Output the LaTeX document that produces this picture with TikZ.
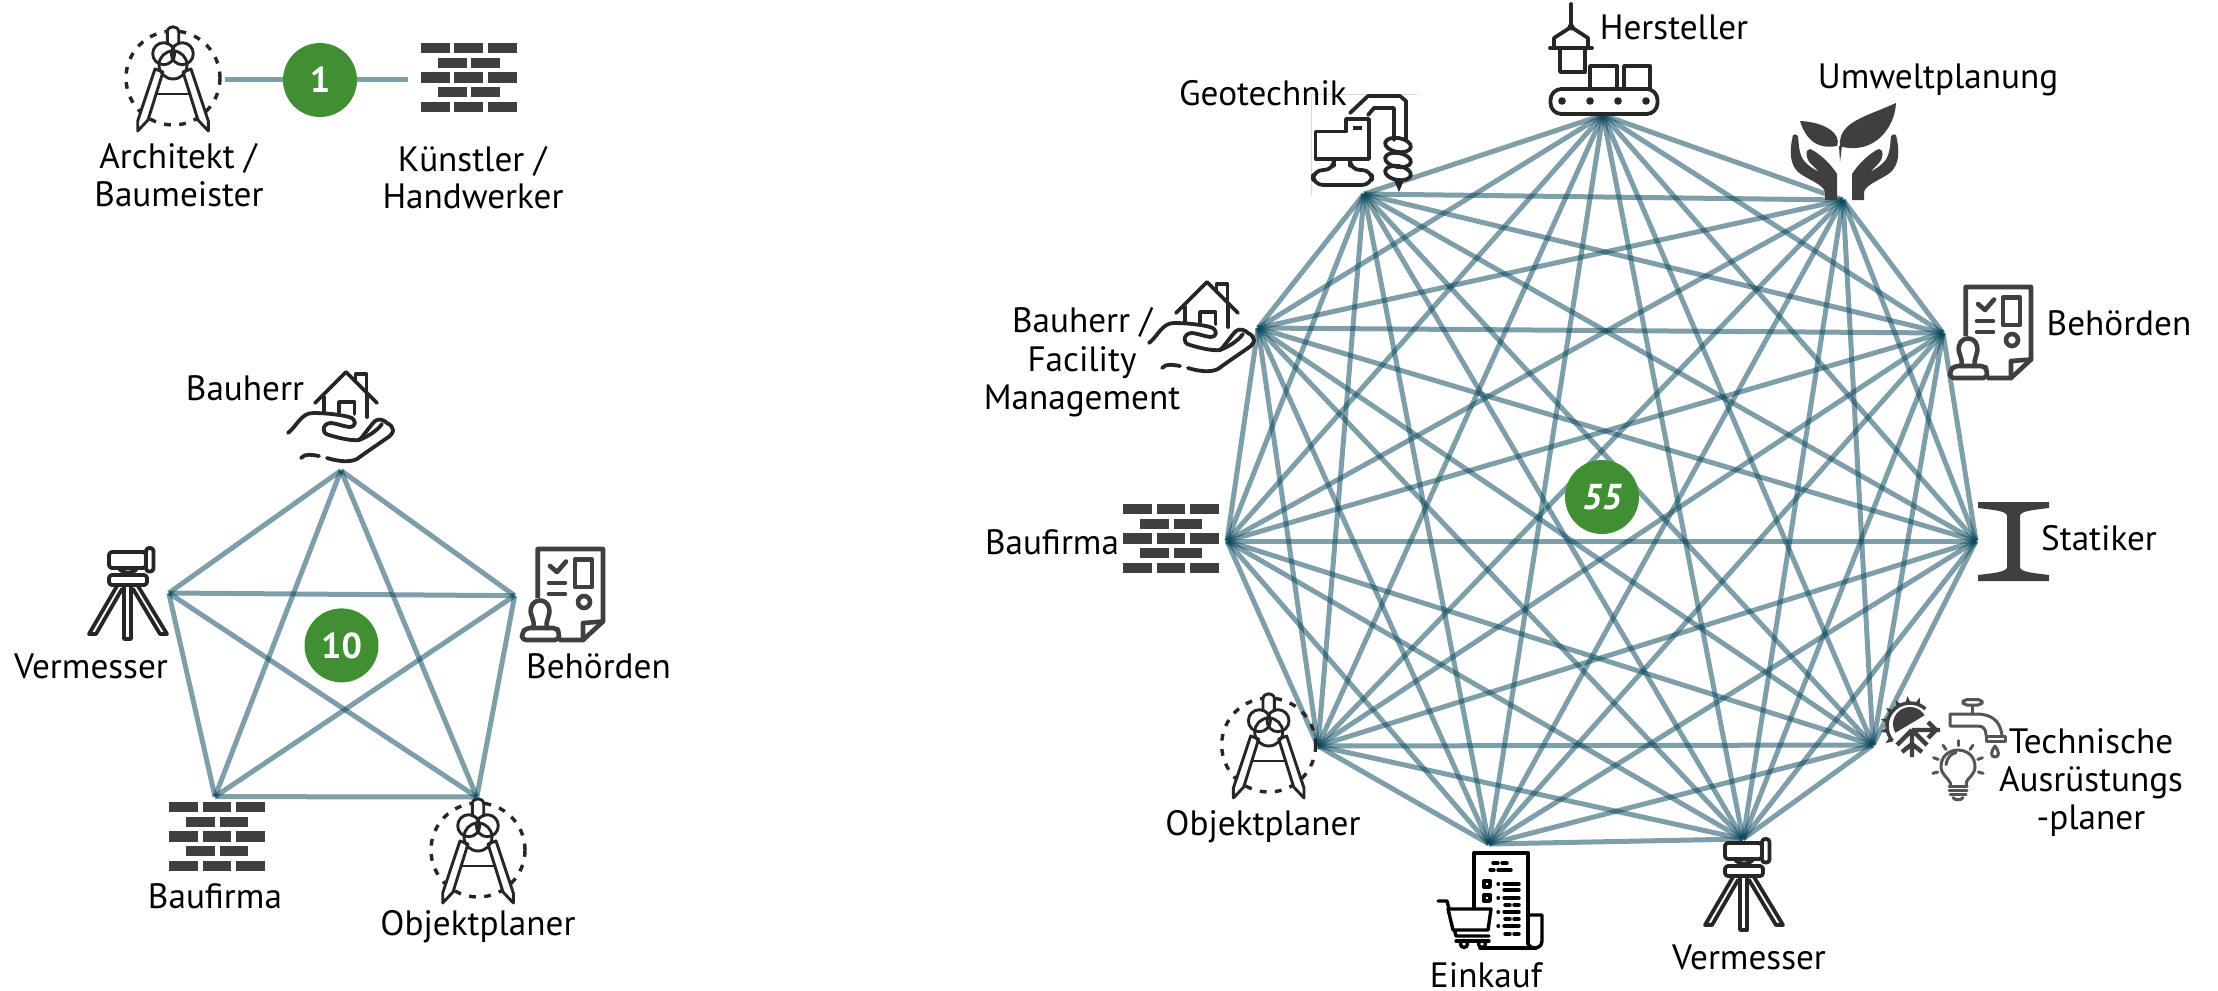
\documentclass[tikz,border=0pt]{standalone}
\usepackage{fontspec}
\setmainfont{PT Sans}
\usetikzlibrary{calc}
\definecolor{linkc}{HTML}{0B4A5E}
\definecolor{icond}{HTML}{3F3F3F}
\definecolor{iconk}{HTML}{262626}
\definecolor{icong}{HTML}{555555}
\definecolor{greenb}{HTML}{409033}
\tikzset{
 linkline/.style={draw=linkc,line width=2.5pt,opacity=.53},
 lbl/.style={anchor=base,yshift=-.5pt,font=\fontsize{17.6}{17.6}\selectfont,inner sep=0pt,text=black},
 count/.style={circle,fill=greenb,text=white,inner sep=0pt,minimum size=37pt,font=\bfseries\fontsize{18}{18}\selectfont},
 ico/.style={line width=1.9pt,draw=iconk,line join=round,line cap=round},
 bricks/.pic={
  \foreach \yy in {0,29.3,58.7}{\foreach \xx in {0,33.6,67.2}{\fill[icond] (\xx,\yy) rectangle ++(28.8,10.3);}}
  \foreach \yy in {14.7,44}{\foreach \xx in {17,50.5}{\fill[icond] (\xx,\yy) rectangle ++(28.8,10.3);}}
 },
 compass/.pic={
  \draw[iconk,line width=1.7pt,dash pattern=on 3.4pt off 4.2pt] (0,0) circle[radius=47];
  \begin{scope}[ico,line width=1.45pt]
  \draw[fill=white] (-5.7,-34) -- (-5.7,-46) .. controls (-5.7,-53) and (5.7,-53) .. (5.7,-46) -- (5.7,-34);
  \draw[fill=white] (-18,-9) -- (-35.3,43) -- (-35.3,53) -- (-25,42) -- (-10,-6) -- cycle;
  \draw[fill=white] (18,-9) -- (35.3,43) -- (35.3,53) -- (25,42) -- (10,-6) -- cycle;
  \draw (-9.3,-24.3) circle[radius=11];
  \draw (9.3,-24.3) circle[radius=11];
  \draw (0,-13) circle[radius=14];
  \draw (-17,16) -- (17,16);
  \end{scope}
 },
 surveyor/.pic={
  \begin{scope}[ico]
  \draw[rounded corners=1.5pt] (21,5) rectangle (58,21);
  \draw[rounded corners=1.5pt] (58,1) rectangle (65.5,24.5);
  \draw (31,21) .. controls (33,27) and (47,27) .. (49,21);
  \draw[rounded corners=1.5pt] (21,28) rectangle (59,38);
  \draw (29,39) -- (1,87) -- (8,87) -- (34,42);
  \draw (36,39) -- (36,92) -- (43,92) -- (43,39);
  \draw (50,39) -- (79,87) -- (72,87) -- (45,42);
  \end{scope}
 },
 docstamp/.pic={
  \begin{scope}[ico,draw=icond,line width=2.3pt]
  \draw[line cap=butt] (16.7,50) -- (16.7,1) -- (82,1) -- (82,73.5) -- (62,92) -- (38,92);
  \draw (62,92) -- (62,75) -- (82,73.5);
  \draw (29,18) -- (36,24) -- (45,13.5);
  \draw (28,35) -- (44,35) (28,46) -- (44,46);
  \draw (54,11.5) rectangle (71,39);
  \draw (63,54) circle[radius=6];
  \draw[rounded corners=2pt] (1,92) -- (1,85) -- (5,80) -- (36,80) -- (38,85) -- (38,92) -- cycle;
  \draw (12,80) .. controls (15,72) and (8,68) .. (10,60) .. controls (12,50) and (26,50) .. (28,60) .. controls (30,68) and (24,72) .. (26,80);
  \end{scope}
 },
 handhouse/.pic={
  \begin{scope}[ico]
  \draw (28,32) -- (59,1) -- (90,32);
  \draw (68.5,11) -- (68.5,3) -- (79.5,3) -- (79.5,21);
  \draw (37,26) -- (37,41);
  \draw (80,23) -- (80,46);
  \draw (52,41) -- (52,31) -- (67.5,31) -- (67.5,43);
  \draw (1,62) .. controls (10,55) and (14,42) .. (26,42) .. controls (40,42) and (55,44) .. (62,46) .. controls (70,48) and (70,56) .. (62,56) .. controls (55,55) and (48,52) .. (44,52) .. controls (36,52) and (33,62) .. (42,64) .. controls (52,67) and (64,70) .. (72,69) .. controls (76,66) and (82,56) .. (88,50) .. controls (92,47) and (97,49) .. (100,52);
  \draw (72,69) .. controls (80,66) and (90,60) .. (95,53);
  \draw (100,52) .. controls (108,56) and (108,62) .. (100,67) .. controls (90,74) and (78,82) .. (70,88) .. controls (62,92) and (50,90) .. (40,87);
  \draw (14,87) .. controls (18,82) and (26,84) .. (32,85);
  \end{scope}
 },
 factory/.pic={
  \begin{scope}[ico]
  \draw (22,0) -- (22,23);
  \fill[iconk] (22,23) circle[radius=3.5];
  \draw (5,44) -- (5,34) -- (22,23) -- (39,34) -- (39,44);
  \draw (1,44) -- (43,44);
  \draw (11,44) rectangle (36,68);
  \draw (41,84) -- (41,62) -- (68,62) -- (68,84);
  \draw (75,84) -- (75,62) -- (101,62) -- (101,84);
  \draw[rounded corners=5.5pt] (1.5,85) rectangle (108.5,110);
  \foreach \xx in {13,41,69,97}{\fill[iconk] (\xx,97) circle[radius=3.8];}
  \end{scope}
 },
 geotech/.pic={
  \draw[black!15,line width=.4pt] (-1,0) -- (105,0) (-1,0) -- (-1,102);
  \begin{scope}[ico]
  \draw (3.5,37.5) -- (34,37.5) -- (34,25) -- (57,25) -- (57,65) -- (3.5,65) -- cycle;
  \fill[iconk] (41,32) rectangle (50,36);
  \draw[rounded corners=5pt] (22,72) -- (22,76) -- (1,76) -- (1,91) -- (60,91) -- (60,76) -- (38,76) -- (38,72);
  \draw (38,19) -- (56,2) -- (88,2) -- (94,7) -- (94,46);
  \draw (56,21) -- (62,14) -- (82,14) -- (82,46);
  \draw[rotate around={-10:(86,51)}] (86,51) ellipse[x radius=13,y radius=7];
  \draw[rotate around={-10:(86,66)}] (86,66) ellipse[x radius=13,y radius=7];
  \draw[rotate around={-10:(86,79)}] (86,79) ellipse[x radius=13,y radius=7];
  \fill[iconk] (82,86) -- (92,86) -- (87,98) -- cycle;
  \end{scope}
 },
 plant/.pic={
  \fill[icond] (50,44) .. controls (48,20) and (75,15) .. (106,1) .. controls (105,25) and (85,52) .. (53,45) -- cycle;
  \fill[icond] (10,19) .. controls (35,20) and (52,32) .. (47,44) .. controls (25,48) and (15,35) .. (10,19) -- cycle;
  \fill[icond] (49,44) -- (52,44) -- (50,60) -- cycle;
  \foreach \mm in {0,1}{
  \begin{scope}[shift={(109*\mm,0)},xscale=1-2*\mm]
  \fill[icond] (3,33) .. controls (-1,50) and (0,62) .. (8,70) .. controls (18,78) and (33,82) .. (35,90) -- (35,98) -- (47,98) -- (47,72) .. controls (41,62) and (28,50) .. (20,47) .. controls (15,47) and (15,57) .. (22,63) -- (29,70) .. controls (15,62) and (11,58) .. (9,45) -- (8,34) .. controls (7,32) and (4,32) .. (3,33) -- cycle;
  \end{scope}}
 },
 ibeam/.pic={
  \fill[icond] (0,0) -- (71,0) -- (71,6) .. controls (55,8) and (42,9) .. (42,14) -- (42,65) .. controls (42,70) and (55,71) .. (71,73) -- (71,79) -- (0,79) -- (0,73) .. controls (16,71) and (29,70) .. (29,65) -- (29,14) .. controls (29,9) and (16,8) .. (0,6) -- cycle;
 },
 sungear/.pic={
  \fill[icond] (27,24) ++(149:17) arc[start angle=149,end angle=329,radius=17] -- cycle;
  \draw[icond,line width=1.7pt] (27,26) ++(140:23) arc[start angle=140,end angle=312,radius=23];
  \foreach \aa in {145,169,...,310}{\fill[icond] (27,26) ++(\aa-7:23) -- ($(27,26)+(\aa:30)$) -- ($(27,26)+(\aa+7:23)$) -- cycle;}
  \draw[white,line width=3pt] (31,29) -- (46,18);
  \draw[icond,line width=2.2pt] (29,30) -- (57,30) (29,30) -- (29,57) (29,30) -- (44,45) (29,30) -- (14,45)
   (45,22) -- (53,30) -- (45,38) (19,52) -- (29,44) -- (39,52);
 },
 faucet/.pic={
  \begin{scope}[ico,draw=icong,line width=1.5pt]
  \draw[rounded corners=2pt] (13,0.5) rectangle (32,6);
  \draw (22,6) -- (22,15);
  \draw (36,36) .. controls (36,31) and (34,27) .. (28,27) -- (0,27) -- (0,15) -- (26,15) .. controls (42,15) and (50,22) .. (52,36);
  \draw (36,37) rectangle (55,42);
  \draw (45,47) .. controls (41,52) and (40,58) .. (45,58) .. controls (50,58) and (49,52) .. (45,47);
  \end{scope}
 },
 bulb/.pic={
  \begin{scope}[ico,draw=icong,line width=1.5pt]
  \draw (18,45) .. controls (16,40) and (9,37) .. (9,29) .. controls (9,7) and (43,7) .. (43,29) .. controls (43,37) and (36,40) .. (34,45);
  \draw (18,45) -- (18,49) (34,45) -- (34,49);
  \draw (17,49) -- (35,49) (17,53) -- (35,53) (18,57) -- (34,57);
  \draw (21,60) .. controls (23,63) and (29,63) .. (31,60);
  \draw (14,27) .. controls (15,20) and (19,16) .. (24,15);
  \foreach \aa in {165,200,235,270,305,340,375}{\draw (26,29) ++(\aa:21) -- ++(\aa:5);}
  \end{scope}
 },
 receipt/.pic={
  \begin{scope}[ico,draw=black,line width=1.7pt]
  \draw (36,55) -- (36,1) -- (90,1) -- (90,92);
  \draw (90,63) -- (104,63) -- (104,89) .. controls (104,98) and (90,98) .. (90,90);
  \draw (42,96) -- (98,96);
  \draw (55,11) -- (60,11) (64,11) -- (69,11) (52,18) -- (56,18) (60,18) -- (73,18);
  \draw (46,29) rectangle (52,35) (46,43) rectangle (52,49);
  \draw (60,32) -- (60.5,32) (60,46) -- (60.5,46) (60,60) -- (60.5,60) (60,74) -- (60.5,74);
  \foreach \yy in {32,38,46,60,74}{\draw (66,\yy) -- (81,\yy);}
  \foreach \yy in {53,67,82}{\draw (67,\yy) -- (72,\yy) (76,\yy) -- (81,\yy);}
  \draw (0,49) -- (9,49) -- (18,84) -- (51,84);
  \draw[fill=white] (10,57) -- (53,57) -- (50,78) -- (15,78) -- cycle;
  \draw (18,89) -- (51,89);
  \draw (26,92) circle[radius=3.5] (44,92) circle[radius=3.5];
  \end{scope}
 },
}
\begin{document}
\begin{tikzpicture}[x=.5pt,y=-.5pt]
\useasboundingbox (0,0) rectangle (2218,991);
% --- pair
\coordinate (p1) at (225,79);
\coordinate (p2) at (408,79);
\draw[linkline] (p1) -- (p2);
\node[count] (c1) at (320,80) {1};
\pic at (173,78) {compass};
\pic at (420.7,43) {bricks};
\node[lbl] (ta) at (178,167) {Architekt /};
\node[lbl] (tb) at (179,205) {Baumeister};
\node[lbl] (tc) at (472,170) {Künstler /};
\node[lbl] (td) at (473,207) {Handwerker};
% --- pentagon
\coordinate (a1) at (341,470.5);
\coordinate (a2) at (514.7,595.7);
\coordinate (a3) at (476.8,797);
\coordinate (a4) at (215,796.6);
\coordinate (a5) at (168.8,593);
\foreach \i/\j in {1/2,1/3,1/4,1/5,2/3,2/4,2/5,3/4,3/5,4/5}{\draw[linkline] (a\i) -- (a\j);}
\node[count] (c2) at (341.5,645.4) {10};
\pic at (287,371) {handhouse};
\pic at (88,547) {surveyor};
\pic at (521,548) {docstamp};
\pic at (169,802) {bricks};
\pic at (478,850) {compass};
\node[lbl] (la) at (245,399) {Bauherr};
\node[lbl] (lb) at (91,677) {Vermesser};
\node[lbl] (lc) at (598.5,677) {Behörden};
\node[lbl] (ld) at (215,907.6) {Baufirma};
\node[lbl] (le) at (478,934) {Objektplaner};
% --- eleven
\coordinate (n1) at (1603,115);
\coordinate (n2) at (1843,200);
\coordinate (n3) at (1943,333);
\coordinate (n4) at (1976,541);
\coordinate (n5) at (1873,745);
\coordinate (n6) at (1743,839);
\coordinate (n7) at (1489,844);
\coordinate (n8) at (1318,746);
\coordinate (n9) at (1227,541);
\coordinate (n10) at (1258,328);
\coordinate (n11) at (1364,194);
\foreach \i in {1,...,10}{
 \pgfmathtruncatemacro{\s}{\i+1}
 \foreach \j in {\s,...,11}{\draw[linkline] (n\i) -- (n\j);}
}
\node[count] (c3) at (1602,497) {\itshape 55};
\pic at (1549,4) {factory};
\pic at (1312,94) {geotech};
\pic at (1790,102) {plant};
\pic at (1949,286) {docstamp};
\pic at (1978,502) {ibeam};
\pic at (1883,700) {sungear};
\pic at (1950,699) {faucet};
\pic at (1932,737.6) {bulb};
\pic at (1438,852) {receipt};
\pic at (1704,838) {surveyor};
\pic at (1268.7,745) {compass};
\pic at (1123,504) {bricks};
\pic at (1148,281) {handhouse};
\node[lbl] (r1) at (1674,38) {Hersteller};
\node[lbl] (r2) at (1938,87) {Umweltplanung};
\node[lbl] (r3) at (1263,104) {Geotechnik};
\node[lbl] (r4) at (2119,334) {Behörden};
\node[lbl] (r5) at (2099,549) {Statiker};
\node[lbl] (r6) at (2091,752) {Technische};
\node[lbl] (r7) at (2091,790) {Ausrüstungs};
\node[lbl] (r8) at (2091,828.5) {-planer};
\node[lbl] (r9) at (1749,968) {Vermesser};
\node[lbl] (r10) at (1486,986) {Einkauf};
\node[lbl] (r11) at (1263,834) {Objektplaner};
\node[lbl] (r12) at (1052,553) {Baufirma};
\node[lbl] (r13) at (1082,331) {Bauherr /};
\node[lbl] (r14) at (1082,370) {Facility};
\node[lbl] (r15) at (1082,408) {Management};
\end{tikzpicture}
\end{document}
